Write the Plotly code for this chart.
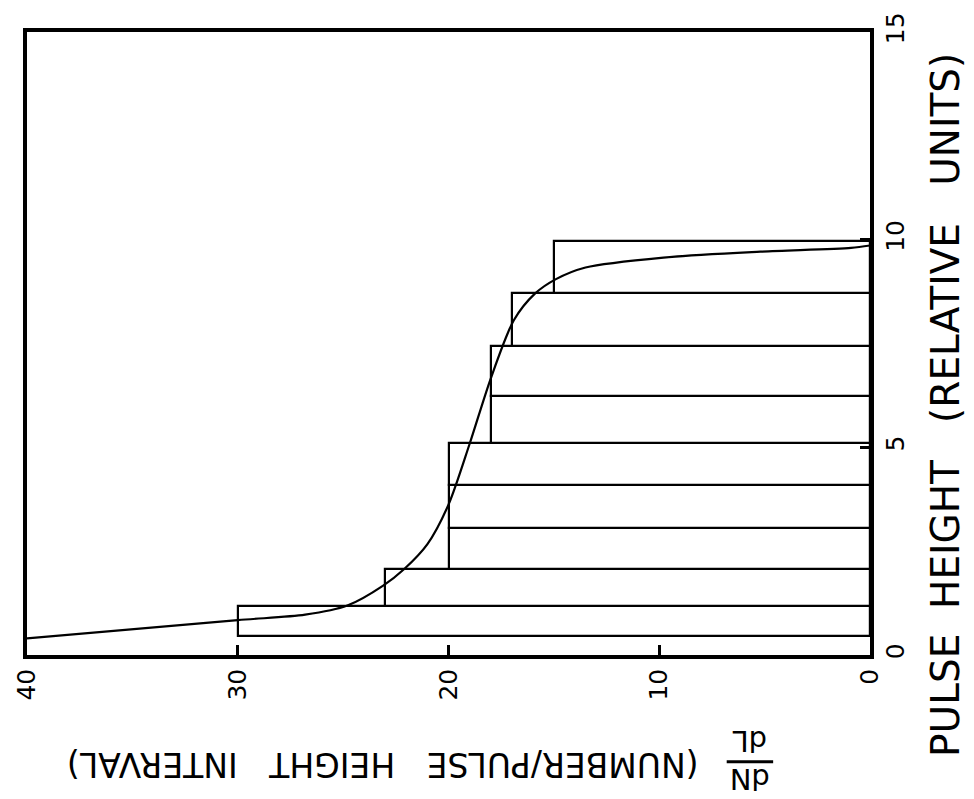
import plotly.graph_objects as go

# Histogram bins (pulse height edges, relative units) and dN/dL values
bin_edges = [0.46, 1.19, 2.07, 3.05, 4.10, 5.10, 6.24, 7.43, 8.71, 9.98]
bin_values = [30, 23, 20, 20, 20, 18, 18, 17, 15]

# Smooth curve: dN/dL vs pulse height
curve_dndl = [40, 30, 26.8, 24.8, 23.1, 22.1, 21.0, 20.0, 19.0, 18.0, 16.9, 15.9, 14.9, 13.5, 9.8, 5.2, 0.9, 0.0]
curve_ph = [0.40, 0.84, 0.97, 1.19, 1.67, 2.07, 2.67, 3.62, 5.08, 6.65, 8.06, 8.70, 9.05, 9.33, 9.57, 9.71, 9.80, 9.86]

x_ticks = [0, 10, 20, 30, 40]
y_ticks = [0, 5, 10, 15]

centers = [(a + b) / 2 for a, b in zip(bin_edges[:-1], bin_edges[1:])]
widths = [b - a for a, b in zip(bin_edges[:-1], bin_edges[1:])]

FONT = "DejaVu Sans"
NB = "\u00a0"

fig = go.Figure()
fig.add_trace(go.Bar(
    x=bin_values, y=centers, width=widths, orientation="h", base=0,
    marker=dict(color="white", line=dict(color="black", width=2.2)),
    showlegend=False, hoverinfo="skip",
))
fig.add_trace(go.Scatter(
    x=curve_dndl, y=curve_ph, mode="lines",
    line=dict(color="black", width=2.2, shape="spline", smoothing=0.8),
    showlegend=False, hoverinfo="skip",
))

L, R, T, B = 17, 870, 25, 655
W, H = 974, 799

def px(xp):
    return (xp - L) / (R - L)

def py(yp):
    return (B - yp) / (B - T)

right_title = "PULSE" + NB * 2 + "HEIGHT" + NB * 3 + "(RELATIVE" + NB * 3 + "UNITS)"
bottom_title = "(NUMBER/PULSE" + NB * 3 + "HEIGHT" + NB * 3 + "INTERVAL)"

fig.update_layout(
    width=W, height=H,
    margin=dict(l=L, r=W - R, t=T, b=H - B),
    paper_bgcolor="white", plot_bgcolor="white",
    bargap=0,
    font=dict(family=FONT, color="black"),
    xaxis=dict(
        range=[40, 0], tickvals=x_ticks, ticktext=[str(v) for v in x_ticks],
        tickangle=-90, tickfont=dict(size=25, family=FONT),
        showgrid=False, zeroline=False,
        showline=True, linecolor="black", linewidth=3.5, mirror=True,
        ticks="inside", ticklen=10, tickwidth=3, tickcolor="black",
    ),
    yaxis=dict(
        range=[0, 15], tickvals=y_ticks, ticktext=[str(v) for v in y_ticks],
        side="right", tickangle=-90, tickfont=dict(size=25, family=FONT),
        showgrid=False, zeroline=False,
        showline=True, linecolor="black", linewidth=3.5, mirror=True,
        ticks="inside", ticklen=10, tickwidth=3, tickcolor="black",
    ),
    annotations=[
        dict(text=right_title, textangle=-90,
             xref="paper", yref="paper", x=px(947), y=py(402),
             xanchor="center", yanchor="middle", showarrow=False,
             font=dict(size=39, family=FONT)),
        dict(text=bottom_title, textangle=180,
             xref="paper", yref="paper", x=px(377), y=py(765),
             xanchor="center", yanchor="middle", showarrow=False,
             font=dict(size=33, family=FONT)),
        dict(text="dN<br>dL", textangle=180,
             xref="paper", yref="paper", x=px(748), y=py(761),
             xanchor="center", yanchor="middle", showarrow=False,
             font=dict(size=29, family=FONT)),
    ],
    shapes=[
        dict(type="line", xref="paper", yref="paper",
             x0=px(725), x1=px(772), y0=py(763), y1=py(763),
             line=dict(color="black", width=3)),
    ],
)

fig.write_html("out.html")
